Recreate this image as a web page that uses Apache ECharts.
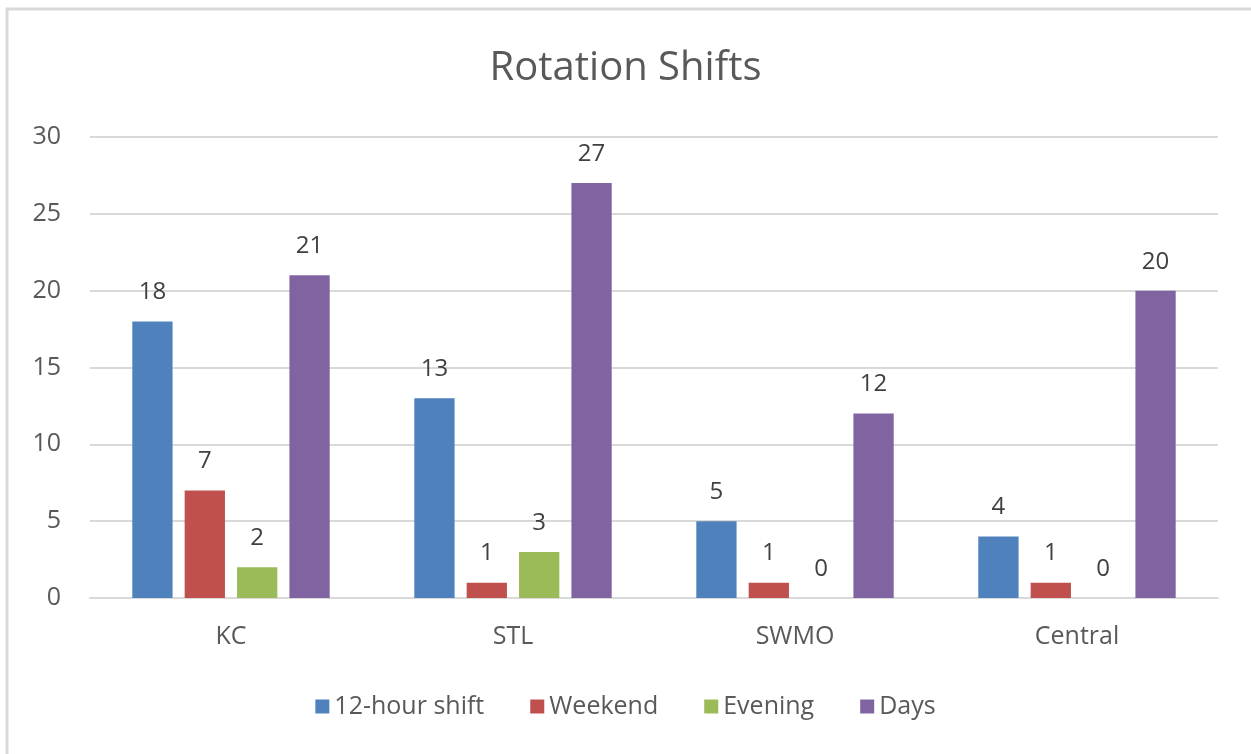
<!DOCTYPE html>
<html>
<head>
<meta charset="utf-8">
<script src="https://cdn.jsdelivr.net/npm/echarts@6/dist/echarts.min.js"></script>
<style>
  html, body { margin: 0; padding: 0; background: #fff; }
  #chart { width: 1251px; height: 754px; }
</style>
</head>
<body>
<div id="chart"></div>
<script>
const categories = ['KC', 'STL', 'SWMO', 'Central']
const twelveHour = [18, 13, 5, 4]
const weekend = [7, 1, 1, 1]
const evening = [2, 3, 0, 0]
const days = [21, 27, 12, 20]
const yTicks = { min: 0, max: 30, interval: 5 }

const font = '"Open Sans", "Noto Sans", sans-serif'

const bar = (name, data, color) => ({
  name,
  type: 'bar',
  data,
  barGap: '30%',
  barCategoryGap: '30%',
  itemStyle: { color },
  label: {
    show: true,
    position: 'top',
    distance: 17,
    color: '#404040',
    fontSize: 24,
    fontFamily: font
  }
})

const chart = echarts.init(document.getElementById('chart'))
chart.setOption({
  animation: false,
  graphic: [{
    type: 'rect',
    shape: { x: 7, y: 9, width: 1260, height: 760 },
    style: { fill: 'none', stroke: '#d9d9d9', lineWidth: 3 },
    silent: true
  }],
  title: {
    text: 'Rotation Shifts',
    left: 'center',
    top: 44,
    textStyle: { color: '#595959', fontSize: 40, fontWeight: 'normal', fontFamily: font }
  },
  legend: {
    bottom: 30,
    left: 'center',
    itemWidth: 14,
    itemHeight: 14,
    itemGap: 46,
    icon: 'rect',
    textStyle: { color: '#595959', fontSize: 25, fontFamily: font }
  },
  grid: { left: 90, right: 33, top: 137, bottom: 156 },
  xAxis: {
    type: 'category',
    data: categories,
    axisLine: { lineStyle: { color: '#d9d9d9', width: 2 } },
    axisTick: { show: false },
    axisLabel: { color: '#595959', fontSize: 25, fontFamily: font, margin: 26 }
  },
  yAxis: {
    type: 'value',
    min: yTicks.min,
    max: yTicks.max,
    interval: yTicks.interval,
    axisLine: { show: false },
    axisTick: { show: false },
    splitLine: { lineStyle: { color: '#d9d9d9', width: 2 } },
    axisLabel: { color: '#595959', fontSize: 25, fontFamily: font, margin: 29 }
  },
  series: [
    bar('12-hour shift', twelveHour, '#4f81bd'),
    bar('Weekend', weekend, '#c0504d'),
    bar('Evening', evening, '#9bbb59'),
    bar('Days', days, '#8064a2')
  ]
})
</script>
</body>
</html>
